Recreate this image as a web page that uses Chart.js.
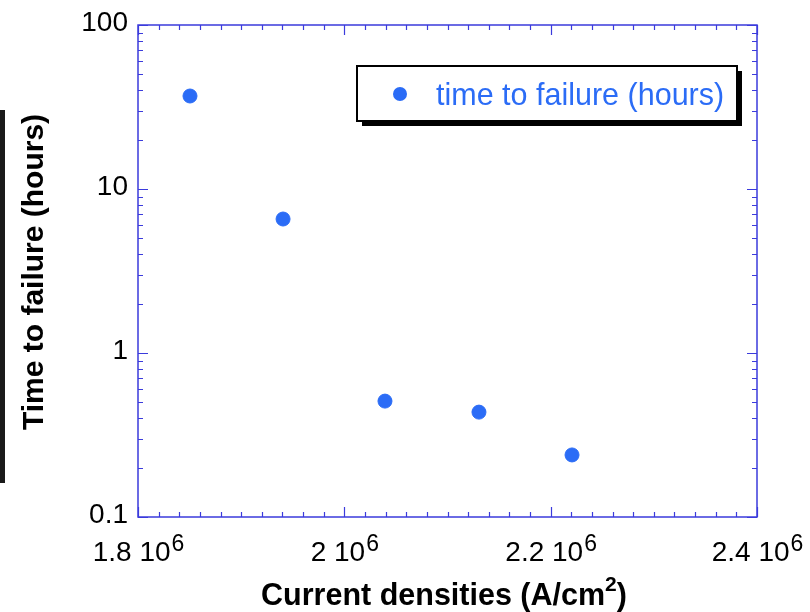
<!DOCTYPE html>
<html>
<head>
<meta charset="utf-8">
<script src="https://cdn.jsdelivr.net/npm/chart.js@4"></script>
<style>
  html, body { margin: 0; padding: 0; background: #fff; }
  #wrap { width: 810px; height: 612px; position: relative; }
</style>
</head>
<body>
<div id="wrap"><canvas id="chart"></canvas></div>
<script>
// values
const currentDensity = [1.8504e6, 1.9406e6, 2.0394e6, 2.1305e6, 2.2207e6]
const timeToFailure = [36.9, 6.56, 0.509, 0.436, 0.239]
const xTicks = [1.8e6, 2.0e6, 2.2e6, 2.4e6]
const xTickLabels = ['1.8', '2', '2.2', '2.4']
const yTicks = [0.1, 1, 10, 100]
const yTickLabels = ['0.1', '1', '10', '100']
const seriesLabel = 'time to failure (hours)'

const AXIS = '#3b3bdc'
const DOT = '#2b6cf6'
const FONT = '"Liberation Sans", Arial, sans-serif'

const Frame = {
  id: 'frame',
  beforeDraw(chart) {
    const ctx = chart.ctx
    ctx.save()
    // dark strip at the left edge of the picture
    ctx.fillStyle = '#1a1a1a'
    ctx.fillRect(0, 110, 5, 373)
    ctx.restore()
  },
  afterDraw(chart) {
    const ctx = chart.ctx
    const a = chart.chartArea
    const xs = chart.scales.x, ys = chart.scales.y
    ctx.save()
    ctx.strokeStyle = AXIS
    ctx.lineWidth = 1.5
    ctx.strokeRect(a.left, a.top, a.right - a.left, a.bottom - a.top)

    ctx.lineWidth = 1.2
    ctx.beginPath()
    // x ticks, every 0.02e6, majors every 0.2e6
    for (let i = 0; i <= 30; i++) {
      const v = xTicks[0] + i * 0.02e6
      const px = Math.round(xs.getPixelForValue(v)) + 0.5
      const len = i % 10 === 0 ? 10 : 5
      ctx.moveTo(px, a.bottom); ctx.lineTo(px, a.bottom - len)
      ctx.moveTo(px, a.top); ctx.lineTo(px, a.top + len)
    }
    // y ticks, log decades with minors 2..9
    yTicks.forEach((d, i) => {
      const py = Math.round(ys.getPixelForValue(d)) + 0.5
      ctx.moveTo(a.left, py); ctx.lineTo(a.left + 10, py)
      ctx.moveTo(a.right, py); ctx.lineTo(a.right - 10, py)
      if (i < yTicks.length - 1) {
        for (let k = 2; k <= 9; k++) {
          const p = Math.round(ys.getPixelForValue(d * k)) + 0.5
          ctx.moveTo(a.left, p); ctx.lineTo(a.left + 5, p)
          ctx.moveTo(a.right, p); ctx.lineTo(a.right - 5, p)
        }
      }
    })
    ctx.stroke()

    // tick labels
    ctx.fillStyle = '#000'
    ctx.font = '28px ' + FONT
    ctx.textBaseline = 'alphabetic'
    ctx.textAlign = 'right'
    yTicks.forEach((v, i) => {
      ctx.fillText(yTickLabels[i], a.left - 10, ys.getPixelForValue(v) + 6)
    })
    ctx.textAlign = 'left'
    xTicks.forEach((v, i) => {
      const main = xTickLabels[i] + ' 10'
      ctx.font = '28px ' + FONT
      const w1 = ctx.measureText(main).width
      ctx.font = '23px ' + FONT
      const w2 = ctx.measureText('6').width
      const x0 = xs.getPixelForValue(v) - (w1 + w2) / 2
      ctx.font = '28px ' + FONT
      ctx.fillText(main, x0, 561)
      ctx.font = '23px ' + FONT
      ctx.fillText('6', x0 + w1 + 1, 551)
    })

    // axis titles
    ctx.font = 'bold 30.5px ' + FONT
    const t1 = 'Current densities (A/cm'
    const w1 = ctx.measureText(t1).width
    ctx.font = 'bold 21px ' + FONT
    const wSup = ctx.measureText('2').width
    ctx.font = 'bold 30.5px ' + FONT
    const wEnd = ctx.measureText(')').width
    let tx = 444 - (w1 + wSup + wEnd) / 2
    ctx.fillText(t1, tx, 605)
    ctx.font = 'bold 21px ' + FONT
    ctx.fillText('2', tx + w1, 591)
    ctx.font = 'bold 30.5px ' + FONT
    ctx.fillText(')', tx + w1 + wSup, 605)

    ctx.save()
    ctx.translate(43, 272)
    ctx.rotate(-Math.PI / 2)
    ctx.textAlign = 'center'
    ctx.font = 'bold 30px ' + FONT
    ctx.fillText('Time to failure (hours)', 0, 0)
    ctx.restore()

    // legend box with shadow
    const bx = 357, by = 66, bw = 380, bh = 55
    ctx.fillStyle = '#000'
    ctx.fillRect(bx + 5, by + 5, bw, bh)
    ctx.fillStyle = '#fff'
    ctx.fillRect(bx, by, bw, bh)
    ctx.strokeStyle = '#000'
    ctx.lineWidth = 2
    ctx.strokeRect(bx, by, bw, bh)
    ctx.fillStyle = DOT
    ctx.beginPath()
    ctx.arc(400, 94, 7, 0, Math.PI * 2)
    ctx.fill()
    ctx.font = '30.5px ' + FONT
    ctx.textAlign = 'left'
    ctx.fillText(chart.data.datasets[0].label, 436, 105)
    ctx.restore()
  }
}

new Chart(document.getElementById('chart'), {
  type: 'scatter',
  data: {
    datasets: [{
      label: seriesLabel,
      data: currentDensity.map((x, i) => ({ x: x, y: timeToFailure[i] })),
      backgroundColor: DOT,
      borderColor: DOT,
      pointRadius: 7,
      pointHoverRadius: 7
    }]
  },
  options: {
    responsive: true,
    maintainAspectRatio: false,
    animation: false,
    layout: { padding: { left: 138, right: 53, top: 25, bottom: 95 } },
    plugins: { legend: { display: false }, tooltip: { enabled: false } },
    scales: {
      x: { type: 'linear', min: 1.8e6, max: 2.4e6, display: false },
      y: { type: 'logarithmic', min: 0.1, max: 100, display: false }
    }
  },
  plugins: [Frame]
})
</script>
</body>
</html>
